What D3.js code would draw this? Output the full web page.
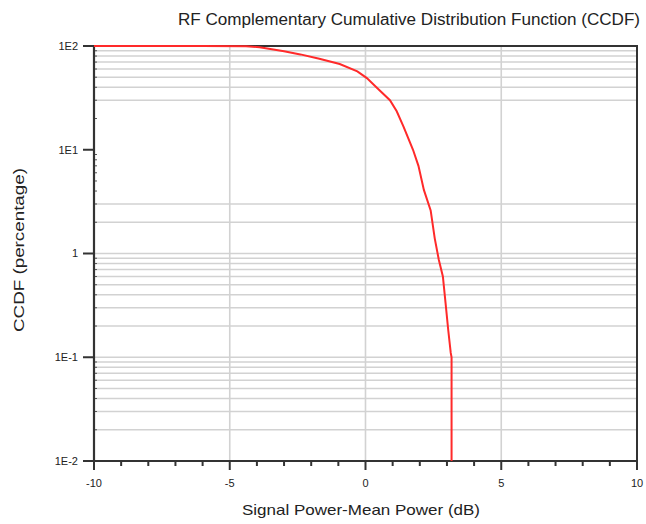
<!DOCTYPE html>
<html>
<head>
<meta charset="utf-8">
<script src="https://cdn.jsdelivr.net/npm/d3@7"></script>
<style>
  body { margin: 0; background: #fff; }
  svg { display: block; font-family: "Liberation Sans", Arial, sans-serif; }
</style>
</head>
<body>
<div id="chart"></div>
<script>
"use strict";

// curve: power above mean (dB) vs CCDF (%)
let powerDb = [-10, -6, -4.4, -3.9, -3.0, -2.4, -1.7, -0.95, -0.3, 0.05, 0.4, 0.9,
  1.15, 1.4, 1.75, 1.95, 2.15, 2.4, 2.55, 2.7, 2.85, 2.95, 3.05, 3.14, 3.17, 3.17];
let ccdfPct = [100, 99.9, 99.4, 97.5, 89, 83, 75.5, 67, 57, 49, 40, 30,
  23.5, 16.7, 10, 7, 4.1, 2.6, 1.4, 0.87, 0.6, 0.33, 0.18, 0.11, 0.1, 0.005];

let xTicks = [-10, -5, 0, 5, 10];
let xMinorTicks = d3.range(-10, 11, 1);
let yTicks = [100, 10, 1, 0.1, 0.01];
let yTickLabels = ["1E2", "1E1", "1", "1E-1", "1E-2"];
// horizontal grid lines as they appear in the original
let yGridPct = [90, 80, 70, 60, 50, 40, 30, 3, 2,
  1, 0.9, 0.8, 0.7, 0.6, 0.5, 0.4, 0.3, 0.2,
  0.1, 0.09, 0.08, 0.07, 0.06, 0.05, 0.04, 0.03, 0.02];
let xGrid = [-5, 0, 5];

let width = 646, height = 524;
let plot = { left: 94, right: 637, top: 46, bottom: 461 };

let svg = d3.select("#chart").append("svg")
  .attr("width", width)
  .attr("height", height);

let x = d3.scaleLinear().domain([-10, 10]).range([plot.left, plot.right]);
let y = d3.scaleLog().domain([0.01, 100]).range([plot.bottom, plot.top]);

// grid
let grid = svg.append("g").attr("class", "grid")
  .attr("stroke", "#d2d2d2")
  .attr("stroke-width", 1.6);

grid.selectAll(".hGrid")
  .data(yGridPct)
  .enter().append("line")
  .attr("class", "hGrid")
  .attr("x1", plot.left)
  .attr("x2", plot.right)
  .attr("y1", d => y(d))
  .attr("y2", d => y(d));

grid.selectAll(".vGrid")
  .data(xGrid)
  .enter().append("line")
  .attr("class", "vGrid")
  .attr("x1", d => x(d))
  .attr("x2", d => x(d))
  .attr("y1", plot.top)
  .attr("y2", plot.bottom);

// frame top/right
svg.append("path")
  .attr("d", "M" + plot.left + "," + plot.top + "H" + plot.right + "V" + plot.bottom)
  .attr("fill", "none")
  .attr("stroke", "#333")
  .attr("stroke-width", 2);

// y minor ticks, pointing inward
let yMinor = [];
for (let dec of [0.01, 0.1, 1, 10]) {
  for (let m = 2; m <= 9; m++) yMinor.push(dec * m);
}
svg.append("g")
  .selectAll("line")
  .data(yMinor)
  .enter().append("line")
  .attr("x1", plot.left)
  .attr("x2", plot.left + 3)
  .attr("y1", d => y(d))
  .attr("y2", d => y(d))
  .attr("stroke", "#555")
  .attr("stroke-width", 1);

// y axis
let yAxis = svg.append("g").attr("class", "yAxis");
yAxis.append("line")
  .attr("x1", plot.left).attr("x2", plot.left)
  .attr("y1", plot.top - 1).attr("y2", plot.bottom + 1)
  .attr("stroke", "#333").attr("stroke-width", 2.2);

yAxis.selectAll(".yTick")
  .data(yTicks)
  .enter().append("line")
  .attr("class", "yTick")
  .attr("x1", plot.left - 11)
  .attr("x2", plot.left)
  .attr("y1", d => y(d))
  .attr("y2", d => y(d))
  .attr("stroke", "#333")
  .attr("stroke-width", 2);

yAxis.selectAll(".yLabel")
  .data(yTicks)
  .enter().append("text")
  .attr("class", "yLabel")
  .attr("x", 78)
  .attr("y", d => y(d))
  .attr("dy", "0.36em")
  .attr("text-anchor", "end")
  .style("font-size", "11px")
  .style("fill", "#222")
  .text((d, i) => yTickLabels[i]);

// x axis
let xAxis = svg.append("g").attr("class", "xAxis");
xAxis.append("line")
  .attr("x1", plot.left - 1).attr("x2", plot.right + 1)
  .attr("y1", plot.bottom).attr("y2", plot.bottom)
  .attr("stroke", "#333").attr("stroke-width", 2.2);

xAxis.selectAll(".xMinor")
  .data(xMinorTicks)
  .enter().append("line")
  .attr("class", "xMinor")
  .attr("x1", d => x(d))
  .attr("x2", d => x(d))
  .attr("y1", plot.bottom)
  .attr("y2", d => plot.bottom + (d % 5 === 0 ? 9 : 5))
  .attr("stroke", "#333")
  .attr("stroke-width", 2);

xAxis.selectAll(".xLabel")
  .data(xTicks)
  .enter().append("text")
  .attr("class", "xLabel")
  .attr("x", d => x(d))
  .attr("y", 487)
  .attr("text-anchor", "middle")
  .style("font-size", "11px")
  .style("fill", "#222")
  .text(d => d);

// ccdf curve
let clipId = "plotClip";
svg.append("clipPath").attr("id", clipId)
  .append("rect")
  .attr("x", plot.left).attr("y", plot.top - 2)
  .attr("width", plot.right - plot.left)
  .attr("height", plot.bottom - plot.top + 2);

let line = d3.line()
  .x(d => x(d[0]))
  .y(d => y(d[1]));

svg.append("path")
  .datum(d3.zip(powerDb, ccdfPct))
  .attr("clip-path", "url(#" + clipId + ")")
  .attr("d", line)
  .attr("fill", "none")
  .attr("stroke", "#ff2a2a")
  .attr("stroke-width", 2);

// titles
svg.append("text")
  .attr("x", 178)
  .attr("y", 25)
  .attr("textLength", 462)
  .attr("lengthAdjust", "spacingAndGlyphs")
  .style("font-size", "16px")
  .style("fill", "#222")
  .text("RF Complementary Cumulative Distribution Function (CCDF)");

svg.append("text")
  .attr("x", 242)
  .attr("y", 515)
  .attr("textLength", 238)
  .attr("lengthAdjust", "spacingAndGlyphs")
  .style("font-size", "15px")
  .style("fill", "#222")
  .text("Signal Power-Mean Power (dB)");

svg.append("text")
  .attr("transform", "translate(24,332) rotate(-90)")
  .attr("textLength", 164)
  .attr("lengthAdjust", "spacingAndGlyphs")
  .style("font-size", "14px")
  .style("fill", "#222")
  .text("CCDF (percentage)");
</script>
</body>
</html>
